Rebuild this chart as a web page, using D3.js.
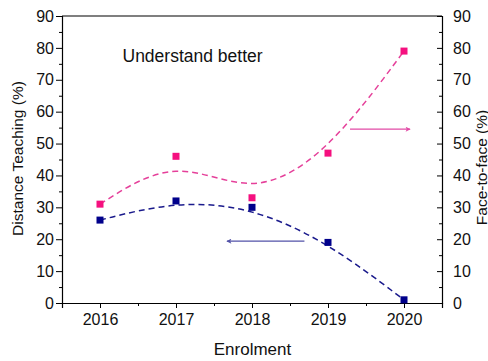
<!DOCTYPE html>
<html>
<head>
<meta charset="utf-8">
<script src="https://cdn.jsdelivr.net/npm/d3@7"></script>
<style>
  html, body { margin: 0; padding: 0; background: #fff; }
  svg { display: block; }
  text { font-family: "Liberation Sans", Arial, sans-serif; fill: #111; }
</style>
</head>
<body>
<svg id="chart" width="488" height="361"></svg>
<script>
// Enrolment years and the two survey series (percent)
const years = [2016, 2017, 2018, 2019, 2020];
const distanceTeaching = [26, 32, 30, 19, 1];   // left axis
const faceToFace = [31, 46, 33, 47, 79];        // right axis
const yTicks = [0, 10, 20, 30, 40, 50, 60, 70, 80, 90];
const chartLabel = "Understand better";
// Arrows pointing each trend to its axis: [x1, x2, y] in data units
const distanceArrow = [2018.69, 2017.67, 19.4];
const faceArrow = [2019.29, 2020.08, 54.5];

const colors = {
  distance: "#00008b",
  distanceLine: "#1a1a8c",
  distanceArrow: "#5252a8",
  face: "#f5107f",
  faceLine: "#e5409a",
  faceArrow: "#e24aa6"
};

const svg = d3.select("#chart");
const plotLeft = 62, plotRight = 442, plotTop = 16, plotBottom = 303;

const x = d3.scaleLinear().domain([2015.5, 2020.5]).range([plotLeft, plotRight]);
const yL = d3.scaleLinear().domain([0, 90]).range([plotBottom, plotTop]);
const yR = d3.scaleLinear().domain([0, 90]).range([plotBottom, plotTop]);

const defs = svg.append("defs");
function arrowMarker(id, color) {
  defs.append("marker")
    .attr("id", id)
    .attr("viewBox", "0 0 10 10")
    .attr("refX", 9).attr("refY", 5)
    .attr("markerWidth", 7).attr("markerHeight", 5)
    .attr("markerUnits", "userSpaceOnUse")
    .attr("orient", "auto")
    .append("path")
    .attr("d", "M0,0 L10,5 L0,10 L2.5,5 Z")
    .attr("fill", color);
}
arrowMarker("arrowBlue", colors.distanceArrow);
arrowMarker("arrowPink", colors.faceArrow);

// Minor ticks halfway between the labelled ones
const minorX = d3.range(2015.5, 2020.51, 0.5).filter(v => !years.includes(v));
const minorY = d3.range(5, 90, 10);

// Bottom axis
const gx = svg.append("g").attr("transform", `translate(0,${plotBottom})`);
gx.call(d3.axisBottom(x).tickValues(minorX).tickSize(3).tickFormat(""));
gx.call(g => g.selectAll(".domain").remove());
const gx2 = svg.append("g").attr("transform", `translate(0,${plotBottom})`);
gx2.call(d3.axisBottom(x).tickValues(years).tickSize(5).tickPadding(6).tickFormat(d3.format("d")));
gx2.selectAll("text").style("font-size", "16px").attr("fill", "#111");

// Left axis
const gy = svg.append("g").attr("transform", `translate(${plotLeft},0)`);
gy.call(d3.axisLeft(yL).tickValues(minorY).tickSize(3).tickFormat(""));
gy.call(g => g.selectAll(".domain").remove());
const gy2 = svg.append("g").attr("transform", `translate(${plotLeft},0)`);
gy2.call(d3.axisLeft(yL).tickValues(yTicks).tickSize(6).tickPadding(2));
gy2.selectAll("text").style("font-size", "16px").attr("fill", "#111");

// Right axis (ticks point inward)
const gr = svg.append("g").attr("transform", `translate(${plotRight},0)`);
gr.call(d3.axisRight(yR).tickValues(minorY).tickSize(-3).tickFormat(""));
gr.call(g => g.selectAll(".domain").remove());
const gr2 = svg.append("g").attr("transform", `translate(${plotRight},0)`);
gr2.call(d3.axisRight(yR).tickValues(yTicks).tickSize(-5).tickPadding(11));
gr2.selectAll("text").style("font-size", "16px").attr("fill", "#111");

// Frame top line
svg.append("line")
  .attr("x1", plotLeft).attr("x2", plotRight).attr("y1", plotTop).attr("y2", plotTop)
  .attr("stroke", "#000").attr("stroke-width", 1.2);

svg.selectAll(".domain").attr("stroke", "#000").attr("stroke-width", 1.2);
svg.selectAll(".tick line").attr("stroke", "#000").attr("stroke-width", 1);

// B-spline trend lines through the data
const faceData = years.map((yr, i) => [yr, faceToFace[i]]);
const distData = years.map((yr, i) => [yr, distanceTeaching[i]]);

svg.append("path")
  .datum(faceData)
  .attr("fill", "none")
  .attr("stroke", colors.faceLine)
  .attr("stroke-width", 1.5)
  .attr("stroke-dasharray", "6,4")
  .attr("d", d3.line().x(d => x(d[0])).y(d => yR(d[1])).curve(d3.curveBasis));

svg.append("path")
  .datum(distData)
  .attr("fill", "none")
  .attr("stroke", colors.distanceLine)
  .attr("stroke-width", 1.5)
  .attr("stroke-dasharray", "6,4")
  .attr("d", d3.line().x(d => x(d[0])).y(d => yL(d[1])).curve(d3.curveBasis));

// Square markers
const ms = 7;
svg.append("g").selectAll("rect")
  .data(faceData).join("rect")
  .attr("x", d => x(d[0]) - ms / 2).attr("y", d => yR(d[1]) - ms / 2)
  .attr("width", ms).attr("height", ms)
  .attr("fill", colors.face);

svg.append("g").selectAll("rect")
  .data(distData).join("rect")
  .attr("x", d => x(d[0]) - ms / 2).attr("y", d => yL(d[1]) - ms / 2)
  .attr("width", ms).attr("height", ms)
  .attr("fill", colors.distance);

// Arrows
svg.append("line")
  .attr("x1", x(distanceArrow[0])).attr("x2", x(distanceArrow[1]))
  .attr("y1", yL(distanceArrow[2])).attr("y2", yL(distanceArrow[2]))
  .attr("stroke", colors.distanceArrow).attr("stroke-width", 1.2)
  .attr("marker-end", "url(#arrowBlue)");

svg.append("line")
  .attr("x1", x(faceArrow[0])).attr("x2", x(faceArrow[1]))
  .attr("y1", yR(faceArrow[2])).attr("y2", yR(faceArrow[2]))
  .attr("stroke", colors.faceArrow).attr("stroke-width", 1.2)
  .attr("marker-end", "url(#arrowPink)");

// Labels
svg.append("text")
  .attr("x", 122.5).attr("y", 61.5)
  .style("font-size", "17.5px")
  .text(chartLabel);

svg.append("text")
  .attr("x", 252.5).attr("y", 355)
  .attr("text-anchor", "middle")
  .style("font-size", "17px")
  .text("Enrolment");

svg.append("text")
  .attr("transform", "translate(23,158.5) rotate(-90)")
  .attr("text-anchor", "middle")
  .style("font-size", "15.5px")
  .text("Distance Teaching (%)");

svg.append("text")
  .attr("transform", "translate(486.5,167.5) rotate(-90)")
  .attr("text-anchor", "middle")
  .style("font-size", "15.5px")
  .text("Face-to-face (%)");
</script>
</body>
</html>
